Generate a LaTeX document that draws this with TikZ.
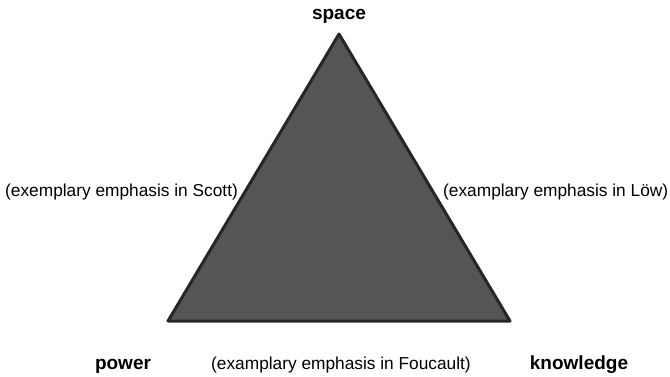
\documentclass[tikz,border=0pt]{standalone}
\usepackage{fontspec}
\setmainfont{Liberation Sans}
\usepackage{xcolor}
\usepackage{tikz}
\definecolor{triFill}{RGB}{85,85,85}
\tikzset{
  corner/.style={font=\fontsize{19}{22}\selectfont\bfseries, inner sep=0pt},
  emph/.style={font=\fontsize{17.3}{20}\selectfont, inner sep=0pt},
}

\begin{document}
\begin{tikzpicture}[x=1pt,y=-1pt]
\useasboundingbox (0,0) rectangle (670,376);
\coordinate (top) at (339,34);
\coordinate (left) at (168,321);
\coordinate (right) at (510,321);
\filldraw[fill=triFill, draw=black!85, line width=3pt, line join=round] (top) -- (right) -- (left) -- cycle;
\node[corner, anchor=base] (space) at (339,19) {space};
\node[corner, anchor=base] (power) at (123,369) {power};
\node[corner, anchor=base] (knowledge) at (579,369) {knowledge};
\node[emph, anchor=base west] (scott) at (5,196) {(exemplary emphasis in Scott)};
\node[emph, anchor=base west] (loew) at (443,196) {(examplary emphasis in Löw)};
\node[emph, anchor=base] (foucault) at (341,369) {(examplary emphasis in Foucault)};
\end{tikzpicture}
\end{document}
